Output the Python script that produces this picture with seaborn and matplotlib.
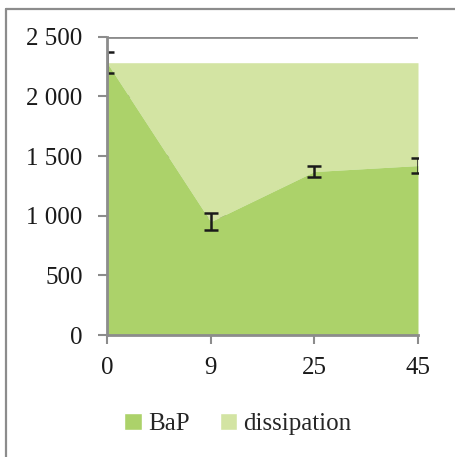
import numpy as np
import pandas as pd
import seaborn as sns
import matplotlib
matplotlib.use("Agg")
import matplotlib.pyplot as plt
from matplotlib.lines import Line2D
from matplotlib.patches import Patch
from matplotlib.ticker import FuncFormatter

# values
days = ["0", "9", "25", "45"]
bap = [2282, 950, 1370, 1420]
bap_err = [88, 73, 49, 60]
initial = [2282, 2282, 2282, 2282]

sns.set_theme(style="white")
plt.rcParams['font.family'] = ['Liberation Serif', 'DejaVu Serif']

df = pd.DataFrame({"day": days, "BaP": bap, "err": bap_err, "total": initial})
df["pos"] = np.arange(len(df))

c_bap = "#acd26a"
c_dis = "#d3e4a3"

fig = plt.figure(figsize=(4.56, 4.57), dpi=100)
ax = fig.add_axes([107 / 456, 1 - 335 / 457, (418 - 107) / 456, (335 - 36.7) / 457])

ax.fill_between(df["pos"], df["BaP"], df["total"], color=c_dis, lw=0, zorder=2)
ax.fill_between(df["pos"], 0, df["BaP"], color=c_bap, lw=0, zorder=2)
ax.errorbar(df["pos"], df["BaP"], yerr=df["err"], fmt="none", ecolor="#1a1a1a",
            elinewidth=1.8, capsize=5, capthick=1.8, zorder=3)

ax.set_xlim(0, 3)
ax.set_ylim(0, 2500)
ax.set_xticks(df["pos"])
ax.set_xticklabels(df["day"])
ax.set_yticks(np.arange(0, 2501, 500))
ax.yaxis.set_major_formatter(FuncFormatter(lambda v, p: f"{int(v):,}".replace(",", " ")))

ax.grid(axis="y", color="#8c8c8c", lw=2, zorder=1)
ax.set_axisbelow(True)
for s in ["right", "top"]:
    ax.spines[s].set_visible(False)
for s in ["left", "bottom"]:
    ax.spines[s].set_color("#8c8c8c")
    ax.spines[s].set_linewidth(2)
    ax.spines[s].set_zorder(4)
ax.tick_params(axis="both", which="both", length=6.5, width=1.5, color="#8c8c8c",
               direction="out", labelsize=18, labelcolor="#1a1a1a",
               bottom=True, left=True)
ax.tick_params(axis="y", pad=11)
ax.tick_params(axis="x", pad=9)

handles = [Patch(facecolor=c_bap, label="BaP"), Patch(facecolor=c_dis, label="dissipation")]
fig.legend(handles=handles, loc="center", bbox_to_anchor=(238 / 456, 1 - 424 / 457),
           ncol=2, frameon=False, fontsize=18, handlelength=0.7, handleheight=0.7,
           handletextpad=0.25, columnspacing=1.2)

# outer chart border: left edge and top edge only (right/bottom fall outside the crop)
bx, by = 6 / 456, 1 - 9 / 457
fig.add_artist(Line2D([bx, bx], [0, by], transform=fig.transFigure, color="#8c8c8c", lw=1.6))
fig.add_artist(Line2D([bx, 1.05], [by, by], transform=fig.transFigure, color="#8c8c8c", lw=1.6))

fig.savefig("out.png", dpi=100)
